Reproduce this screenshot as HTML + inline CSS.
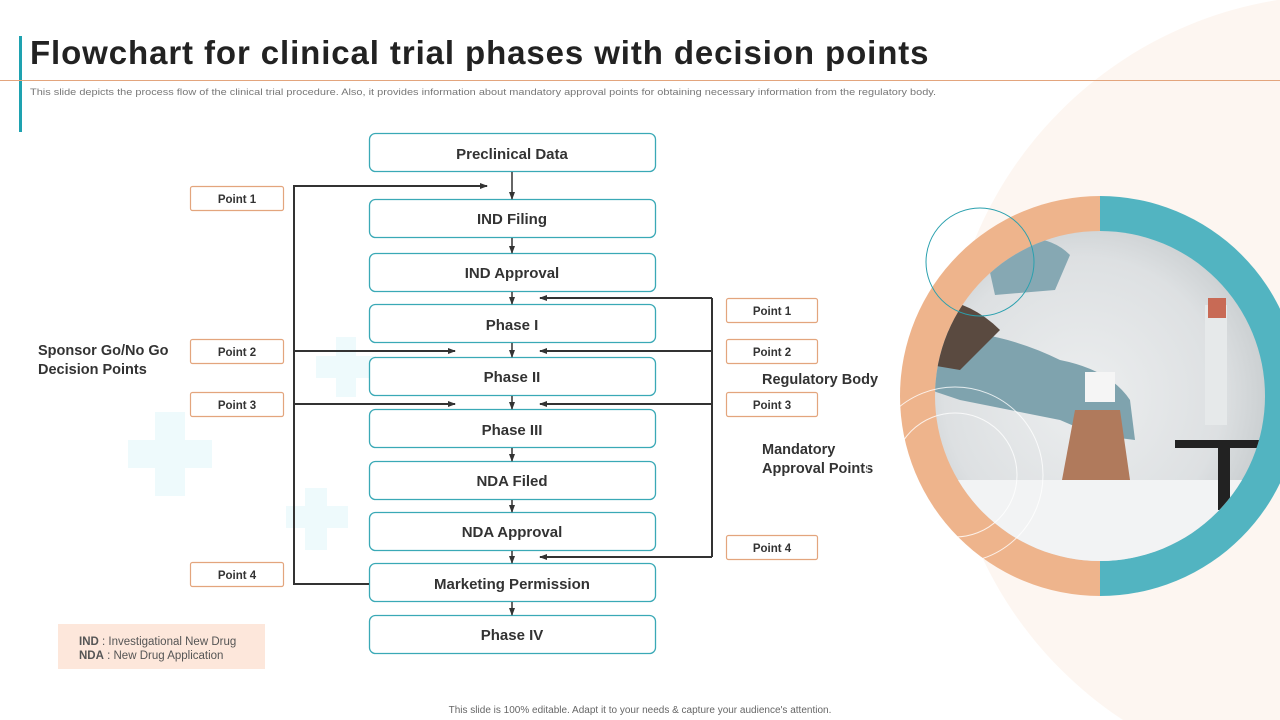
<!DOCTYPE html>
<html><head><meta charset="utf-8"><style>
html,body{margin:0;width:1280px;height:720px;overflow:hidden;background:#fff;font-family:"Liberation Sans",sans-serif}
svg{display:block}
</style></head><body>
<svg width="1280" height="720" viewBox="0 0 1280 720" xmlns="http://www.w3.org/2000/svg" font-family="Liberation Sans, sans-serif">
<defs>
<marker id="a" markerWidth="8" markerHeight="8" refX="7" refY="4" orient="auto" markerUnits="userSpaceOnUse"><path d="M0,1 L8,4 L0,7 z" fill="#333"/></marker>
<radialGradient id="ph" cx="0.45" cy="0.5" r="0.6"><stop offset="0" stop-color="#eceeef"/><stop offset="0.7" stop-color="#dde0e2"/><stop offset="1" stop-color="#c5cacc"/></radialGradient>
<clipPath id="ic"><circle cx="1100" cy="396" r="165"/></clipPath>
</defs>
<circle cx="1340" cy="390" r="395" fill="#fdf6f1"/>
<g fill="#eefafc">
<rect x="155" y="412" width="30" height="84"/><rect x="128" y="440" width="84" height="28"/>
<rect x="305" y="488" width="22" height="62"/><rect x="286" y="506" width="62" height="22"/>
<rect x="336" y="337" width="20" height="60"/><rect x="316" y="356" width="60" height="22"/>
</g>
<rect x="19" y="36" width="3" height="96" fill="#1ea2b0"/>
<line x1="0" y1="80.5" x2="1280" y2="80.5" stroke="#e3a57d" stroke-width="1"/>
<text x="30" y="64" font-size="33" font-weight="bold" fill="#222" letter-spacing="0.9">Flowchart for clinical trial phases with decision points</text>
<text x="30" y="95" font-size="9.5" fill="#777" textLength="906" lengthAdjust="spacingAndGlyphs">This slide depicts the process flow of the clinical trial procedure. Also, it provides information about mandatory approval points for obtaining necessary information from the regulatory body.</text>
<g fill="#fff" stroke="#3aa9b6" stroke-width="1.3">
<rect x="369.5" y="133.5" width="286" height="38" rx="6"/>
<rect x="369.5" y="199.5" width="286" height="38" rx="6"/>
<rect x="369.5" y="253.5" width="286" height="38" rx="6"/>
<rect x="369.5" y="304.5" width="286" height="38" rx="6"/>
<rect x="369.5" y="357.5" width="286" height="38" rx="6"/>
<rect x="369.5" y="409.5" width="286" height="38" rx="6"/>
<rect x="369.5" y="461.5" width="286" height="38" rx="6"/>
<rect x="369.5" y="512.5" width="286" height="38" rx="6"/>
<rect x="369.5" y="563.5" width="286" height="38" rx="6"/>
<rect x="369.5" y="615.5" width="286" height="38" rx="6"/>
</g>
<g font-size="15" font-weight="bold" fill="#333" text-anchor="middle">
<text x="512" y="159">Preclinical Data</text>
<text x="512" y="224">IND Filing</text>
<text x="512" y="278">IND Approval</text>
<text x="512" y="330">Phase I</text>
<text x="512" y="382">Phase II</text>
<text x="512" y="435">Phase III</text>
<text x="512" y="486">NDA Filed</text>
<text x="512" y="537">NDA Approval</text>
<text x="512" y="589">Marketing Permission</text>
<text x="512" y="640">Phase IV</text>
</g>
<g stroke="#333" stroke-width="1.5" marker-end="url(#a)">
<line x1="512" y1="172" x2="512" y2="199"/>
<line x1="512" y1="238" x2="512" y2="253"/>
<line x1="512" y1="292" x2="512" y2="304"/>
<line x1="512" y1="343" x2="512" y2="357"/>
<line x1="512" y1="396" x2="512" y2="409"/>
<line x1="512" y1="448" x2="512" y2="461"/>
<line x1="512" y1="500" x2="512" y2="512"/>
<line x1="512" y1="551" x2="512" y2="563"/>
<line x1="512" y1="602" x2="512" y2="615"/>
</g>
<g stroke="#333" stroke-width="2" fill="none">
<polyline points="369,584 294,584 294,186 487,186" marker-end="url(#a)"/>
<line x1="294" y1="351" x2="455" y2="351" marker-end="url(#a)"/>
<line x1="294" y1="404" x2="455" y2="404" marker-end="url(#a)"/>
<line x1="712" y1="298" x2="712" y2="557"/>
<line x1="712" y1="298" x2="540" y2="298" marker-end="url(#a)"/>
<line x1="712" y1="351" x2="540" y2="351" marker-end="url(#a)"/>
<line x1="712" y1="404" x2="540" y2="404" marker-end="url(#a)"/>
<line x1="712" y1="557" x2="540" y2="557" marker-end="url(#a)"/>
</g>
<g fill="#fff" stroke="#e3a57d" stroke-width="1.2">
<rect x="190.5" y="186.5" width="93" height="24" rx="2"/>
<rect x="190.5" y="339.5" width="93" height="24" rx="2"/>
<rect x="190.5" y="392.5" width="93" height="24" rx="2"/>
<rect x="190.5" y="562.5" width="93" height="24" rx="2"/>
<rect x="726.5" y="298.5" width="91" height="24" rx="2"/>
<rect x="726.5" y="339.5" width="91" height="24" rx="2"/>
<rect x="726.5" y="392.5" width="91" height="24" rx="2"/>
<rect x="726.5" y="535.5" width="91" height="24" rx="2"/>
</g>
<g font-size="11.5" font-weight="bold" fill="#333" text-anchor="middle">
<text x="237" y="203">Point 1</text>
<text x="237" y="356">Point 2</text>
<text x="237" y="409">Point 3</text>
<text x="237" y="579">Point 4</text>
<text x="772" y="315">Point 1</text>
<text x="772" y="356">Point 2</text>
<text x="772" y="409">Point 3</text>
<text x="772" y="552">Point 4</text>
</g>
<g font-size="14.5" font-weight="bold" fill="#333">
<text x="38" y="355">Sponsor Go/No Go</text>
<text x="38" y="374">Decision Points</text>
<text x="762" y="384">Regulatory Body</text>
<text x="762" y="454">Mandatory</text>
<text x="762" y="473">Approval Points</text>
</g>
<rect x="58" y="624" width="207" height="45" fill="#fde7db"/>
<text x="79" y="645" font-size="11.5" fill="#555"><tspan font-weight="bold">IND</tspan> : Investigational New Drug</text>
<text x="79" y="659" font-size="11.5" fill="#555"><tspan font-weight="bold">NDA</tspan> : New Drug Application</text>
<text x="640" y="713" font-size="10" fill="#666" text-anchor="middle">This slide is 100% editable. Adapt it to your needs &amp; capture your audience's attention.</text>
<path d="M1100,196 A200,200 0 0 0 1100,596 Z" fill="#eeb48c"/>
<path d="M1100,196 A200,200 0 0 1 1100,596 Z" fill="#52b4c1"/>
<circle cx="1100" cy="396" r="165" fill="url(#ph)"/>
<g clip-path="url(#ic)">
<rect x="900" y="480" width="400" height="90" fill="#f2f3f4"/>
<path d="M930,330 Q1000,330 1060,360 Q1110,370 1130,400 L1135,440 L1095,435 L1060,420 L960,400 L930,390 Z" fill="#7fa3ae"/>
<path d="M900,300 Q960,290 1000,330 L960,370 L900,360Z" fill="#5a4a40"/>
<path d="M985,250 Q1040,225 1070,255 L1055,290 L995,295 Z" fill="#86a8b3"/>
<rect x="1085" y="372" width="30" height="30" fill="#f5f5f5"/>
<path d="M1075,410 L1120,410 L1130,480 L1062,480 Z" fill="#b07a5c"/>
<rect x="1205" y="305" width="22" height="120" fill="#e6e9ea"/>
<rect x="1208" y="298" width="18" height="20" fill="#c86a55"/>
<rect x="1175" y="440" width="100" height="8" fill="#222"/>
<rect x="1218" y="440" width="12" height="70" fill="#222"/>
</g>
<circle cx="980" cy="262" r="54" fill="none" stroke="#2aa0ae" stroke-width="1"/>
<circle cx="955" cy="475" r="88" fill="none" stroke="#fff" stroke-width="1" opacity="0.8"/>
<circle cx="955" cy="475" r="62" fill="none" stroke="#fff" stroke-width="1" opacity="0.8"/>
</svg>
</body></html>
